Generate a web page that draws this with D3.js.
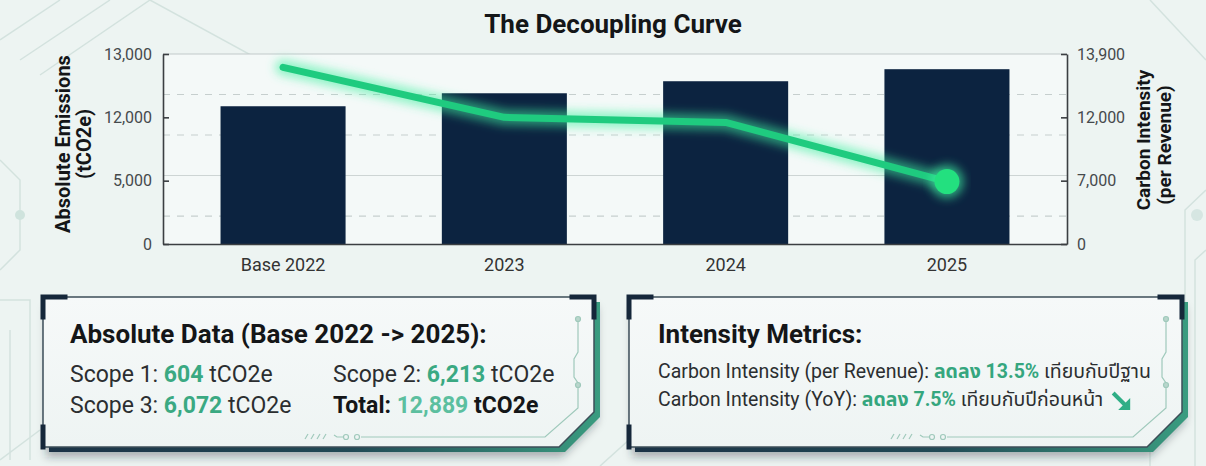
<!DOCTYPE html>
<html>
<head>
<meta charset="utf-8">
<script src="https://cdn.jsdelivr.net/npm/d3@7"></script>
<style>
  html, body { margin: 0; padding: 0; background: #edf4f2; }
  svg { display: block; }
  text { font-family: Roboto, "Noto Sans Thai", "Noto Sans", "DejaVu Sans", sans-serif; }
</style>
</head>
<body>
<svg id="chart" width="1206" height="466"></svg>
<script>
// ---------- data ----------
const categories = ["Base 2022", "2023", "2024", "2025"];
const absoluteEmissions = [12175, 12380, 12570, 12760];   // tCO2e (bars, left axis)
const carbonIntensity = [13500, 12000, 11600, 6900];      // per revenue (line, right axis)
const leftTickValues = [0, 5000, 12000, 13000];
const rightTickValues = [0, 7000, 12000, 13900];

const chartTitle = "The Decoupling Curve";
const leftAxisTitle = ["Absolute Emissions", "(tCO2e)"];
const rightAxisTitle = ["Carbon Intensity", "(per Revenue)"];

const panel1Title = "Absolute Data (Base 2022 -> 2025):";
const scopeLabels = ["Scope 1:", "Scope 2:", "Scope 3:", "Total:"];
const scopeValues = ["604", "6,213", "6,072", "12,889"];
const scopeUnit = "tCO2e";

const panel2Title = "Intensity Metrics:";
const intensityLabels = ["Carbon Intensity (per Revenue):", "Carbon Intensity (YoY):"];
const intensityChanges = ["ลดลง 13.5%", "ลดลง 7.5%"];
const intensityCompare = ["เทียบกับปีฐาน", "เทียบกับปีก่อนหน้า"];

// ---------- layout ----------
const W = 1206, H = 466;
const plot = { left: 163, right: 1067, top: 54, bottom: 244 };
const svg = d3.select("#chart");

const defs = svg.append("defs");
const glow = defs.append("filter").attr("id", "glow").attr("x", "-20%").attr("y", "-50%").attr("width", "140%").attr("height", "200%");
glow.append("feGaussianBlur").attr("stdDeviation", 5);
const soft = defs.append("filter").attr("id", "soft").attr("x", "-10%").attr("y", "-30%").attr("width", "120%").attr("height", "160%");
soft.append("feGaussianBlur").attr("stdDeviation", 4);
const edgeGrad = defs.append("linearGradient").attr("id", "edgeGrad").attr("x1", "0").attr("x2", "1");
edgeGrad.append("stop").attr("offset", "0%").attr("stop-color", "#1b3346");
edgeGrad.append("stop").attr("offset", "55%").attr("stop-color", "#214a55");
edgeGrad.append("stop").attr("offset", "100%").attr("stop-color", "#3a9c80");
const faceGrad = defs.append("linearGradient").attr("id", "faceGrad").attr("x1", "0").attr("x2", "0").attr("y1", "0").attr("y2", "1");
faceGrad.append("stop").attr("offset", "0%").attr("stop-color", "#f6f9f9");
faceGrad.append("stop").attr("offset", "100%").attr("stop-color", "#eef4f3");

// background
svg.append("rect").attr("width", W).attr("height", H).attr("fill", "#edf4f2");
const deco = svg.append("g").attr("fill", "none").attr("stroke", "#d3e2de").attr("stroke-width", 1.5);
[
  "M0,40 L60,0", "M20,60 L110,0", "M40,75 L150,0", "M150,0 L260,60",
  "M0,160 L20,180 L20,250 L0,270", "M0,300 L30,300 L30,460", "M10,330 L10,460",
  "M1206,60 L1150,0", "M1206,190 L1185,210 L1185,330 L1150,360 L1150,466",
  "M1206,250 L1195,260 L1195,466", "M600,466 L640,430", "M0,460 L40,430"
].forEach(d => deco.append("path").attr("d", d));
svg.append("circle").attr("cx", 20).attr("cy", 215).attr("r", 5).attr("fill", "#cfe3dd");
svg.append("circle").attr("cx", 1197).attr("cy", 215).attr("r", 6).attr("fill", "#d6e6e2");

// plot background
svg.append("rect").attr("x", plot.left).attr("y", plot.top)
  .attr("width", plot.right - plot.left).attr("height", plot.bottom - plot.top)
  .attr("fill", "#f4f9f8");

// ---------- scales ----------
const stepL = (plot.bottom - plot.top) / (leftTickValues.length - 1);
const yLeft = d3.scaleLinear().domain(leftTickValues)
  .range(leftTickValues.map((d, i) => plot.bottom - i * stepL));
const stepR = (plot.bottom - plot.top) / (rightTickValues.length - 1);
const yRight = d3.scaleLinear().domain(rightTickValues)
  .range(rightTickValues.map((d, i) => plot.bottom - i * stepR));
const x = d3.scaleBand().domain(categories).range([plot.left, plot.right])
  .paddingInner(0.435).paddingOuter(0.26);

// gridlines (decorative bands)
const gridStep = (plot.bottom - plot.top) * 0.2132;
const gridG = svg.append("g");
[1, 2, 3, 4].forEach(k => {
  const gy = plot.top + k * gridStep;
  gridG.append("line").attr("x1", plot.left).attr("x2", plot.right).attr("y1", gy).attr("y2", gy)
    .attr("stroke", k === 3 ? "#cdd5d4" : "#c6cfce").attr("stroke-width", 1.2)
    .attr("stroke-dasharray", k === 3 ? null : "7,7");
});
svg.append("line").attr("x1", plot.left).attr("x2", plot.right).attr("y1", plot.top).attr("y2", plot.top)
  .attr("stroke", "#c2c9c9").attr("stroke-width", 1.2);

// bars
svg.append("g").selectAll("rect").data(categories).join("rect")
  .attr("x", d => x(d)).attr("width", x.bandwidth())
  .attr("y", (d, i) => yLeft(absoluteEmissions[i]))
  .attr("height", (d, i) => plot.bottom - yLeft(absoluteEmissions[i]))
  .attr("fill", "#0c2340");

// axes
const axL = svg.append("g").attr("transform", `translate(${plot.left},0)`)
  .call(d3.axisLeft(yLeft).tickValues(leftTickValues).tickFormat(d3.format(",")).tickSizeInner(-6).tickSizeOuter(0).tickPadding(11));
const axR = svg.append("g").attr("transform", `translate(${plot.right},0)`)
  .call(d3.axisRight(yRight).tickValues(rightTickValues).tickFormat(d3.format(",")).tickSizeInner(-6).tickSizeOuter(0).tickPadding(10));
const axB = svg.append("g").attr("transform", `translate(0,${plot.bottom})`)
  .call(d3.axisBottom(x).tickSize(0).tickPadding(14));
[axL, axR, axB].forEach(a => {
  a.select(".domain").attr("stroke", "#3b3f42").attr("stroke-width", 1.6);
  a.selectAll(".tick line").attr("stroke", "#3b3f42").attr("stroke-width", 1.6);
  a.selectAll("text").attr("fill", "#45494c").attr("font-size", 16);
});
axB.selectAll("text").attr("font-size", 18).attr("fill", "#333");

// line with glow
const linePts = categories.map((c, i) => [x(c) + x.bandwidth() / 2, yRight(carbonIntensity[i])]);
const lineGen = d3.line();
svg.append("path").attr("d", lineGen(linePts)).attr("fill", "none")
  .attr("stroke", "#3ff0a0").attr("stroke-width", 16).attr("stroke-opacity", 0.55)
  .attr("stroke-linecap", "round").attr("stroke-linejoin", "round").attr("filter", "url(#glow)");
svg.append("path").attr("d", lineGen(linePts)).attr("fill", "none")
  .attr("stroke", "#1fcb7f").attr("stroke-width", 7)
  .attr("stroke-linecap", "round").attr("stroke-linejoin", "round");
const last = linePts[linePts.length - 1];
svg.append("circle").attr("cx", last[0]).attr("cy", last[1]).attr("r", 17)
  .attr("fill", "#3ff0a0").attr("opacity", 0.6).attr("filter", "url(#glow)");
svg.append("circle").attr("cx", last[0]).attr("cy", last[1]).attr("r", 12.5).attr("fill", "#23e07f");

// titles
svg.append("text").attr("x", 613).attr("y", 33).attr("text-anchor", "middle")
  .attr("font-size", 26).attr("font-weight", 700).attr("fill", "#141618").text(chartTitle);
const lt = svg.append("g").attr("font-weight", 700).attr("fill", "#141618").attr("font-size", 20);
lt.append("text").attr("transform", "translate(70,144) rotate(-90)").attr("text-anchor", "middle").text(leftAxisTitle[0]);
lt.append("text").attr("transform", "translate(91,144) rotate(-90)").attr("text-anchor", "middle").text(leftAxisTitle[1]);
const rt = svg.append("g").attr("font-weight", 700).attr("fill", "#141618").attr("font-size", 19);
rt.append("text").attr("transform", "translate(1150,140) rotate(-90)").attr("text-anchor", "middle").text(rightAxisTitle[0]);
rt.append("text").attr("transform", "translate(1171,145) rotate(-90)").attr("text-anchor", "middle").text(rightAxisTitle[1]);

// ---------- panels ----------
function panel(x0, x1) {
  const y0 = 297, y1 = 447, ch = 35;
  const g = svg.append("g");
  const face = [[x0, y0], [x1, y0], [x1, y1 - ch], [x1 - ch, y1], [x0, y1]];
  const off = (p, dx, dy) => p.map(q => [q[0] + dx, q[1] + dy]);
  const poly = p => "M" + p.map(q => q.join(",")).join("L") + "Z";
  g.append("path").attr("d", poly(off(face, 3, 10))).attr("fill", "rgba(20,40,50,0.35)").attr("filter", "url(#soft)");
  g.append("path").attr("d", poly(off(face, 6, 5))).attr("fill", "url(#edgeGrad)");
  g.append("path").attr("d", poly(face)).attr("fill", "url(#faceGrad)").attr("stroke", "#3d4e58").attr("stroke-width", 1.5);
  // inner circuit line
  const ix = x1 - 16;
  const ic = g.append("g").attr("fill", "none").attr("stroke", "#9fc9bb").attr("stroke-width", 1.2);
  ic.append("path").attr("d", `M${ix},${y0 + 24} L${ix},${y0 + 55} L${ix - 4},${y0 + 62} L${ix - 4},${y0 + 80} L${ix},${y0 + 86} L${ix},${y1 - ch - 4} L${ix - ch + 2},${y1 - 10} L${x0 + 318},${y1 - 10}`);
  ic.append("circle").attr("cx", ix).attr("cy", y0 + 22).attr("r", 2.5).attr("fill", "#b9d6cc");
  ic.append("circle").attr("cx", ix).attr("cy", y0 + 88).attr("r", 2.5).attr("fill", "#b9d6cc");
  ic.append("circle").attr("cx", x0 + 314).attr("cy", y1 - 10).attr("r", 2.5);
  ic.append("circle").attr("cx", x0 + 303).attr("cy", y1 - 10).attr("r", 2.5);
  ic.append("path").attr("d", `M${x0 + 300},${y1 - 10} L${x0 + 294},${y1 - 10} L${x0 + 291},${y1 - 12}`);
  for (let k = 0; k < 4; k++) ic.append("line").attr("x1", x0 + 262 + k * 6).attr("x2", x0 + 265 + k * 6).attr("y1", y1 - 8).attr("y2", y1 - 13);
  // dark corner brackets
  const br = g.append("g").attr("fill", "none").attr("stroke", "#15273a").attr("stroke-width", 5).attr("stroke-linecap", "square");
  br.append("path").attr("d", `M${x0},${y0 + 20} L${x0},${y0} L${x0 + 22},${y0}`);
  br.append("path").attr("d", `M${x1 - 22},${y0} L${x1},${y0} L${x1},${y0 + 20}`);
  br.append("path").attr("d", `M${x0},${y1 - 20} L${x0},${y1}`);
  return g;
}

const p1 = panel(43, 594);
p1.append("text").attr("x", 70).attr("y", 343).attr("font-size", 26).attr("font-weight", 700).attr("fill", "#141618").text(panel1Title);
const scopePos = [[70, 382], [333, 382], [70, 413], [333, 413]];
scopeLabels.forEach((lab, i) => {
  const isTotal = i === 3;
  const t = p1.append("text").attr("x", scopePos[i][0]).attr("y", scopePos[i][1]).attr("font-size", 23).attr("fill", "#2b2e30");
  t.append("tspan").attr("font-weight", isTotal ? 700 : 400).attr("fill", isTotal ? "#141618" : "#2b2e30").text(lab + " ");
  t.append("tspan").attr("font-weight", 700).attr("fill", isTotal ? "#5cbf9f" : "#3aa982").text(scopeValues[i]);
  t.append("tspan").attr("font-weight", isTotal ? 700 : 400).attr("fill", isTotal ? "#141618" : "#2b2e30").text(" " + scopeUnit);
});

const p2 = panel(629, 1182);
p2.append("text").attr("x", 658).attr("y", 343).attr("font-size", 26).attr("font-weight", 700).attr("fill", "#141618").text(panel2Title);
const rowY = [378, 406];
let lastText;
intensityLabels.forEach((lab, i) => {
  const t = p2.append("text").attr("x", 658).attr("y", rowY[i]).attr("font-size", 19.5).attr("fill", "#2b2e30");
  t.append("tspan").text(lab + " ");
  t.append("tspan").attr("font-weight", 700).attr("fill", "#35a67e").text(intensityChanges[i]);
  t.append("tspan").text(" " + intensityCompare[i]);
  lastText = t;
});
// trend arrow
const bb = lastText.node().getBBox();
const ax0 = bb.x + bb.width + 10, ay0 = 393;
p2.append("path").attr("d", `M${ax0},${ay0} L${ax0 + 13},${ay0 + 13}`).attr("stroke", "#2fae86").attr("stroke-width", 4).attr("fill", "none");
p2.append("path").attr("d", `M${ax0 + 17},${ay0 + 17} L${ax0 + 17},${ay0 + 5} L${ax0 + 5},${ay0 + 17} Z`).attr("fill", "#2fae86");
</script>
</body>
</html>
